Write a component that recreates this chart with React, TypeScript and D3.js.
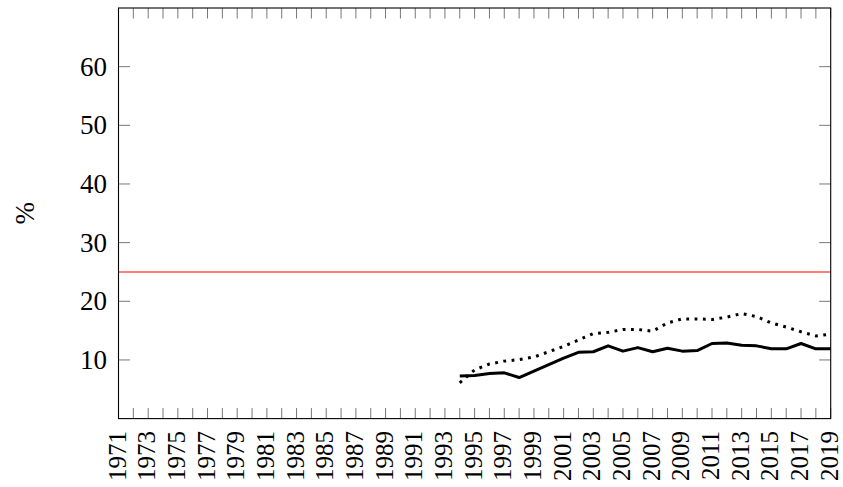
import React from "react";
import * as d3 from "d3";

const years: number[] = [
  1994, 1995, 1996, 1997, 1998, 1999, 2000, 2001, 2002, 2003, 2004, 2005, 2006,
  2007, 2008, 2009, 2010, 2011, 2012, 2013, 2014, 2015, 2016, 2017, 2018, 2019,
];
const solidSeries: number[] = [
  7.27, 7.35, 7.7, 7.8, 7.0, 8.1, 9.2, 10.3, 11.3, 11.4, 12.4, 11.5, 12.1,
  11.4, 12.0, 11.5, 11.6, 12.8, 12.9, 12.5, 12.4, 11.9, 11.9, 12.8, 11.9, 11.9,
];
const dottedSeries: number[] = [
  6.1, 8.3, 9.3, 9.8, 10.05, 10.5, 11.4, 12.3, 13.4, 14.5, 14.7, 15.2, 15.2,
  14.9, 16.3, 17.0, 17.0, 16.9, 17.3, 17.9, 17.4, 16.3, 15.6, 14.8, 14.1, 14.4,
];
const referenceLevel = 25;
const yTicks: number[] = [10, 20, 30, 40, 50, 60];
const xMin = 1971;
const xMax = 2019;
const yLabel = "%";

const W = 843;
const H = 487;
const left = 118.5;
const right = 830.7;
const top = 8;
const bottom = 418.6;
const FONT = "Liberation Serif, DejaVu Serif, serif";

export default function App() {
  const x = d3.scaleLinear().domain([xMin, xMax]).range([left, right]);
  const y = d3.scaleLinear().domain([0, 70]).range([bottom, top]);
  const allYears = d3.range(xMin, xMax + 1);
  const labelYears = allYears.filter((yr) => (yr - xMin) % 2 === 0);
  const line = d3
    .line<number>()
    .x((_, i) => x(years[i]))
    .y((d) => y(d));
  const tickLen = 10.5;

  return (
    <div style={{ position: "absolute", left: 0, top: 0 }}>
      <svg width={W} height={H} style={{ display: "block", fontFamily: FONT }}>
        <rect x={0} y={0} width={W} height={H} fill="#fff" />
        {allYears.map((yr) => (
          <g key={"xt" + yr} stroke="#777" strokeWidth={1}>
            <line x1={x(yr)} x2={x(yr)} y1={bottom} y2={bottom - tickLen} />
            <line x1={x(yr)} x2={x(yr)} y1={top} y2={top + tickLen} />
          </g>
        ))}
        {yTicks.map((t) => (
          <g key={"yt" + t} stroke="#777" strokeWidth={1}>
            <line x1={left} x2={left + tickLen + 1} y1={y(t)} y2={y(t)} />
            <line x1={right} x2={right - tickLen - 1} y1={y(t)} y2={y(t)} />
          </g>
        ))}
        <line
          x1={left}
          x2={right}
          y1={y(referenceLevel)}
          y2={y(referenceLevel)}
          stroke="#ff0000"
          strokeWidth={1.1}
        />
        <path
          d={line(dottedSeries) || ""}
          fill="none"
          stroke="#000"
          strokeWidth={3}
          strokeDasharray="2.8 5.5"
        />
        <path
          d={line(solidSeries) || ""}
          fill="none"
          stroke="#000"
          strokeWidth={3}
          strokeLinejoin="round"
        />
        <rect
          x={left}
          y={top}
          width={right - left}
          height={bottom - top}
          fill="none"
          stroke="#000"
          strokeWidth={1.1}
        />
        {yTicks.map((t) => (
          <text
            key={"yl" + t}
            x={107}
            y={y(t)}
            dy="0.34em"
            textAnchor="end"
            fontSize={27}
            fill="#000"
            style={{ fontFamily: FONT }}
          >
            {t}
          </text>
        ))}
        {labelYears.map((yr) => (
          <text
            key={"xl" + yr}
            transform={`translate(${x(yr) + 7},${431}) rotate(-90)`}
            textAnchor="end"
            fontSize={25}
            fill="#000"
            style={{ fontFamily: FONT }}
          >
            {yr}
          </text>
        ))}
        <text
          transform={`translate(${25},${(top + bottom) / 2}) rotate(-90)`}
          textAnchor="middle"
          dominantBaseline="central"
          fontSize={27}
          fill="#000"
          style={{ fontFamily: FONT }}
        >
          {yLabel}
        </text>
      </svg>
    </div>
  );
}
